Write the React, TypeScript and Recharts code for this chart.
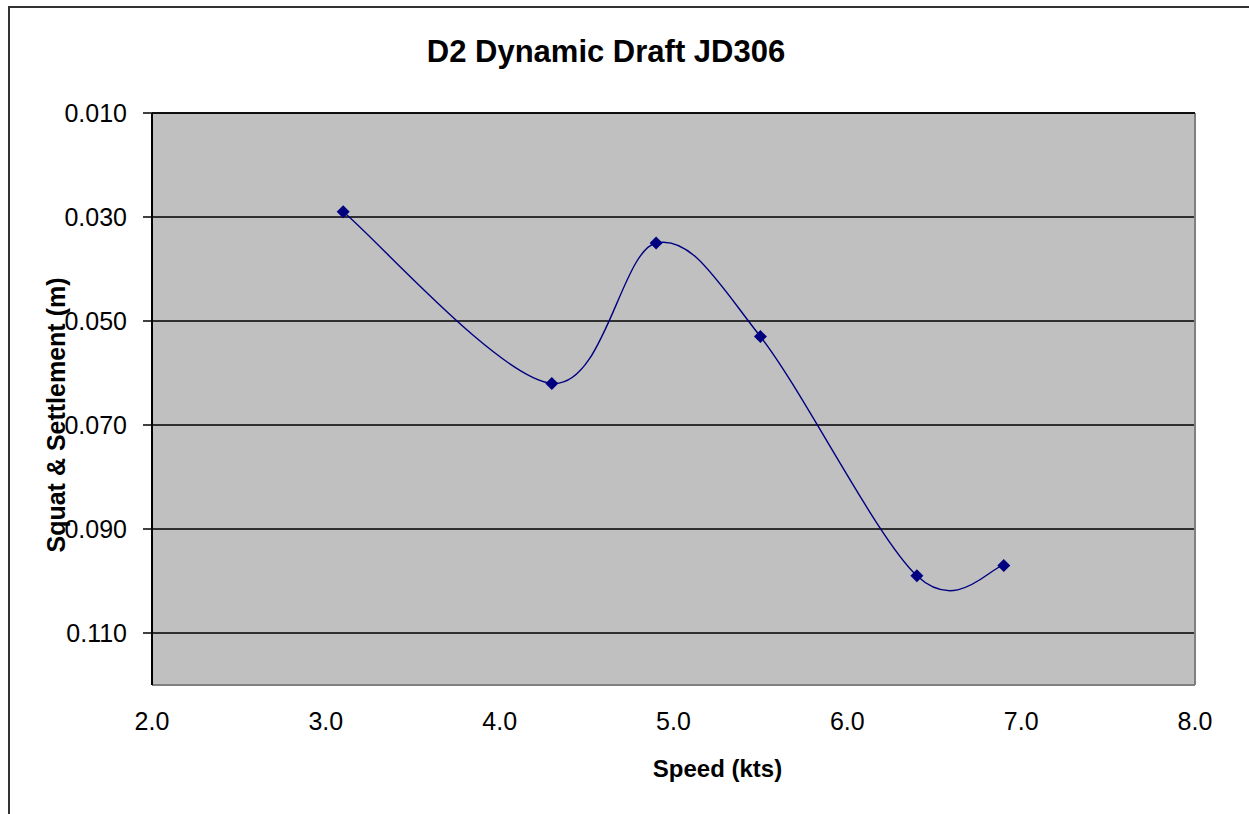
import React from 'react';
import {
  ScatterChart,
  Scatter,
  XAxis,
  YAxis,
  CartesianGrid,
  ReferenceLine,
} from 'recharts';

// speed (kts) vs squat & settlement (m)
const speeds = [3.1, 4.3, 4.9, 5.5, 6.4, 6.9];
const squat = [0.029, 0.062, 0.035, 0.053, 0.099, 0.097];

const xTicks = [2, 3, 4, 5, 6, 7, 8];
const yTicks = [0.01, 0.03, 0.05, 0.07, 0.09, 0.11];

const chartData = speeds.map((s, i) => ({ speed: s, squat: squat[i] }));

const FONT = 'Arial, "Liberation Sans", sans-serif';
const NAVY = '#000080';

// Excel-like smoothed line (catmull-rom style bezier), used as a d3 curve factory
const excelSmooth = (context: any) => {
  let pts: number[][] = [];
  return {
    areaStart() {},
    areaEnd() {},
    lineStart() {
      pts = [];
    },
    point(x: number, y: number) {
      pts.push([+x, +y]);
    },
    lineEnd() {
      const n = pts.length;
      if (!n) return;
      context.moveTo(pts[0][0], pts[0][1]);
      for (let i = 0; i < n - 1; i++) {
        const p0 = pts[Math.max(i - 1, 0)];
        const p1 = pts[i];
        const p2 = pts[i + 1];
        const p3 = pts[Math.min(i + 2, n - 1)];
        context.bezierCurveTo(
          p1[0] + (p2[0] - p0[0]) / 6,
          p1[1] + (p2[1] - p0[1]) / 6,
          p2[0] - (p3[0] - p1[0]) / 6,
          p2[1] - (p3[1] - p1[1]) / 6,
          p2[0],
          p2[1]
        );
      }
    },
  };
};

const Diamond = (props: any) => {
  const { cx, cy } = props;
  const r = 6.5;
  return (
    <path
      d={`M${cx},${cy - r}L${cx + r},${cy}L${cx},${cy + r}L${cx - r},${cy}Z`}
      fill={NAVY}
    />
  );
};

const XTitle = (props: any) => {
  const vb = props.viewBox || {};
  return (
    <text
      x={vb.x + vb.width / 2 + 44}
      y={vb.y + 92}
      textAnchor="middle"
      fontFamily={FONT}
      fontWeight="bold"
      fontSize={24}
      fill="#000"
    >
      Speed (kts)
    </text>
  );
};

const YTitle = (props: any) => {
  const vb = props.viewBox || {};
  const x = vb.x + 65;
  const y = vb.y + vb.height / 2 + 16;
  return (
    <text
      x={x}
      y={y}
      transform={`rotate(-90, ${x}, ${y})`}
      textAnchor="middle"
      fontFamily={FONT}
      fontWeight="bold"
      fontSize={25}
      fill="#000"
    >
      Squat &amp; Settlement (m)
    </text>
  );
};

export default function App() {
  const tickStyle = { fontFamily: FONT, fontSize: 25, fill: '#000' };
  return (
    <div style={{ position: 'absolute', left: 0, top: 0, width: 1249, height: 814, overflow: 'hidden', background: '#fff' }}>
      <div
        style={{
          position: 'absolute',
          left: 8,
          top: 6,
          width: 1241,
          height: 808,
          borderLeft: '2px solid #333',
          borderTop: '2px solid #333',
          boxSizing: 'border-box',
        }}
      />
      <div
        style={{
          position: 'absolute',
          left: 0,
          top: 36,
          width: 1212,
          textAlign: 'center',
          fontFamily: FONT,
          fontWeight: 'bold',
          fontSize: 31,
          lineHeight: '31px',
          color: '#000',
        }}
      >
        D2 Dynamic Draft JD306
      </div>
      <div style={{ position: 'absolute', left: 0, top: 0 }}>
        <ScatterChart
          width={1249}
          height={814}
          margin={{ top: 103, right: 54, bottom: 34, left: 0 }}
        >
          <CartesianGrid
            vertical={false}
            stroke="#000"
            strokeWidth={1.5}
            fill="#c0c0c0"
            fillOpacity={1}
          />
          <XAxis
            xAxisId="top"
            orientation="top"
            type="number"
            dataKey="speed"
            domain={[2, 8]}
            ticks={xTicks}
            allowDataOverflow
            height={10}
            tick={false}
            tickSize={6}
            tickLine={{ stroke: '#000', strokeWidth: 1.5 }}
            axisLine={{ stroke: '#000', strokeWidth: 1.5 }}
          />
          <XAxis
            type="number"
            dataKey="speed"
            domain={[2, 8]}
            ticks={xTicks}
            allowDataOverflow
            height={95}
            tickLine={false}
            tickSize={0}
            tickMargin={27}
            tick={tickStyle}
            tickFormatter={(v: number) => v.toFixed(1)}
            axisLine={{ stroke: '#808080', strokeWidth: 2 }}
            label={<XTitle />}
          />
          <YAxis
            type="number"
            dataKey="squat"
            domain={[0.01, 0.12]}
            ticks={yTicks}
            reversed
            allowDataOverflow
            width={152}
            tickSize={9}
            tickMargin={16}
            tick={tickStyle}
            tickFormatter={(v: number) => v.toFixed(3)}
            tickLine={{ stroke: '#000', strokeWidth: 1.5 }}
            axisLine={{ stroke: '#000', strokeWidth: 2 }}
            label={<YTitle />}
          />
          <ReferenceLine x={8} stroke="#808080" strokeWidth={2} ifOverflow="visible" />
          <Scatter
            data={chartData}
            fill={NAVY}
            line={{ stroke: NAVY, strokeWidth: 1.4 }}
            lineJointType={excelSmooth as any}
            shape={<Diamond />}
            isAnimationActive={false}
          />
        </ScatterChart>
      </div>
    </div>
  );
}
